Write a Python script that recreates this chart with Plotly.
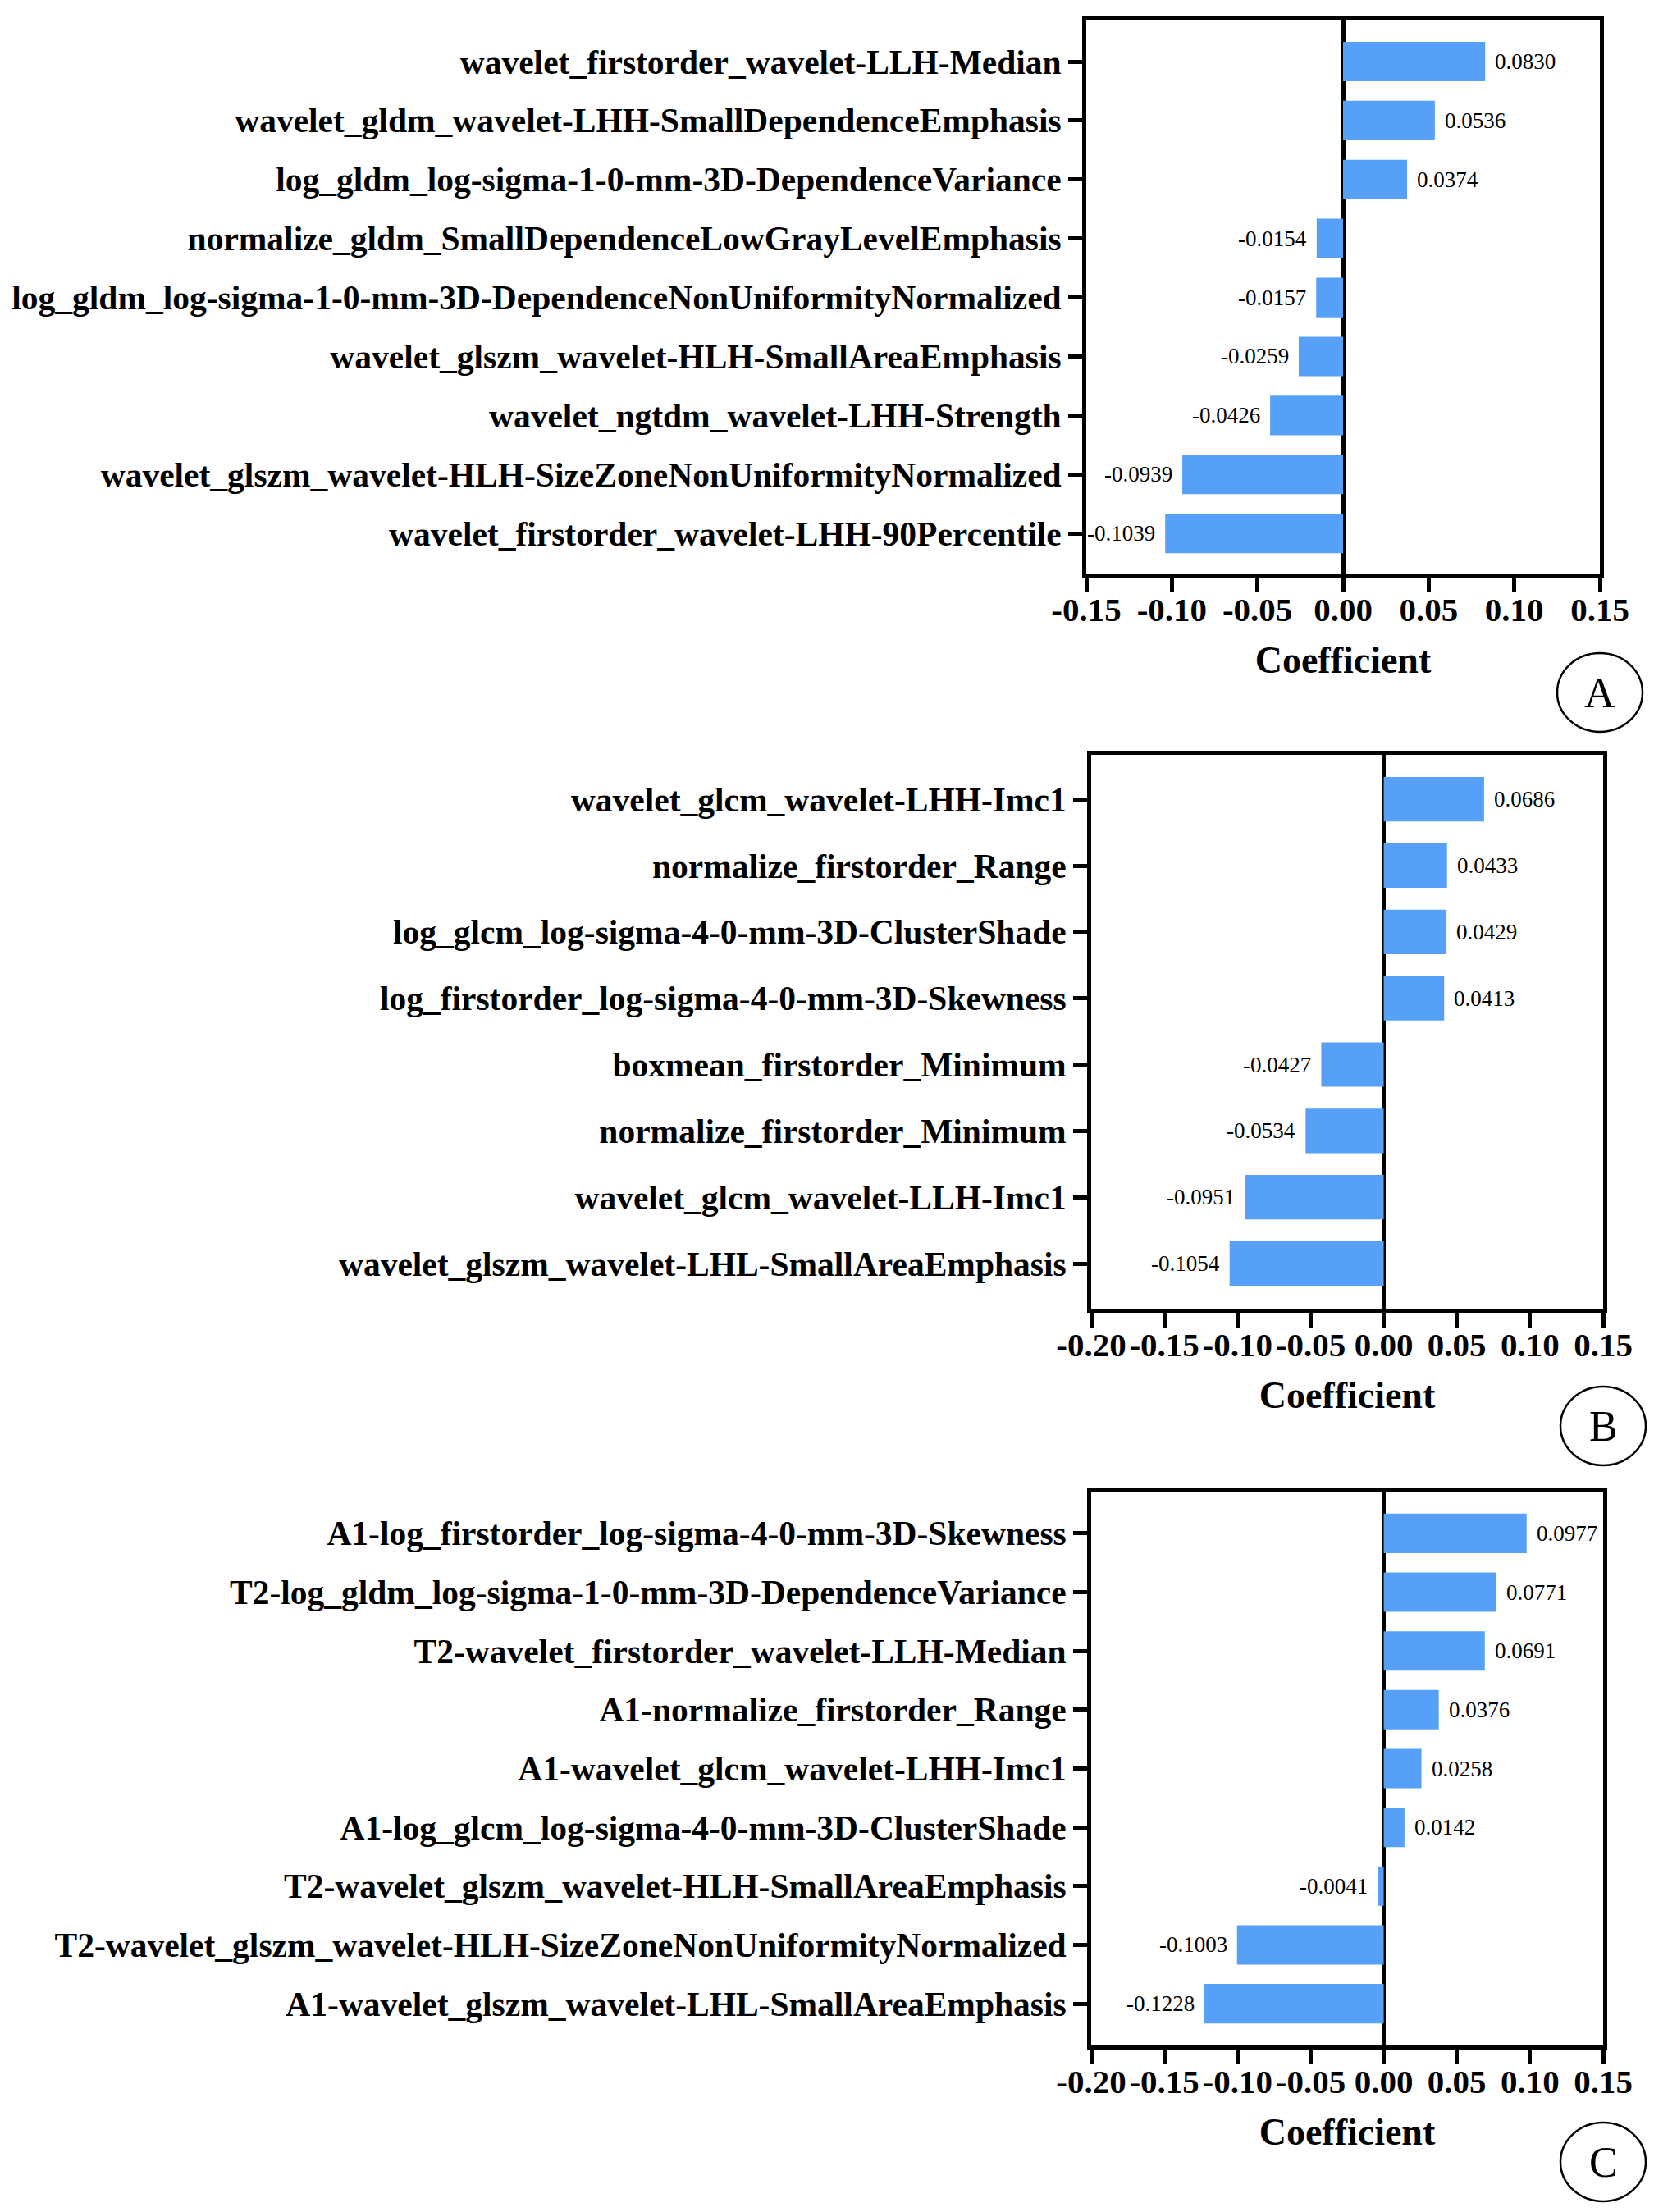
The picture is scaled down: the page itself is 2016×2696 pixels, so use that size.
import plotly.graph_objects as go

# ---------------- data ----------------
a_features = [
    "wavelet_firstorder_wavelet-LLH-Median",
    "wavelet_gldm_wavelet-LHH-SmallDependenceEmphasis",
    "log_gldm_log-sigma-1-0-mm-3D-DependenceVariance",
    "normalize_gldm_SmallDependenceLowGrayLevelEmphasis",
    "log_gldm_log-sigma-1-0-mm-3D-DependenceNonUniformityNormalized",
    "wavelet_glszm_wavelet-HLH-SmallAreaEmphasis",
    "wavelet_ngtdm_wavelet-LHH-Strength",
    "wavelet_glszm_wavelet-HLH-SizeZoneNonUniformityNormalized",
    "wavelet_firstorder_wavelet-LHH-90Percentile",
]
a_coefs = [0.0830, 0.0536, 0.0374, -0.0154, -0.0157, -0.0259, -0.0426, -0.0939, -0.1039]

b_features = [
    "wavelet_glcm_wavelet-LHH-Imc1",
    "normalize_firstorder_Range",
    "log_glcm_log-sigma-4-0-mm-3D-ClusterShade",
    "log_firstorder_log-sigma-4-0-mm-3D-Skewness",
    "boxmean_firstorder_Minimum",
    "normalize_firstorder_Minimum",
    "wavelet_glcm_wavelet-LLH-Imc1",
    "wavelet_glszm_wavelet-LHL-SmallAreaEmphasis",
]
b_coefs = [0.0686, 0.0433, 0.0429, 0.0413, -0.0427, -0.0534, -0.0951, -0.1054]

c_features = [
    "A1-log_firstorder_log-sigma-4-0-mm-3D-Skewness",
    "T2-log_gldm_log-sigma-1-0-mm-3D-DependenceVariance",
    "T2-wavelet_firstorder_wavelet-LLH-Median",
    "A1-normalize_firstorder_Range",
    "A1-wavelet_glcm_wavelet-LHH-Imc1",
    "A1-log_glcm_log-sigma-4-0-mm-3D-ClusterShade",
    "T2-wavelet_glszm_wavelet-HLH-SmallAreaEmphasis",
    "T2-wavelet_glszm_wavelet-HLH-SizeZoneNonUniformityNormalized",
    "A1-wavelet_glszm_wavelet-LHL-SmallAreaEmphasis",
]
c_coefs = [0.0977, 0.0771, 0.0691, 0.0376, 0.0258, 0.0142, -0.0041, -0.1003, -0.1228]

a_ticks = [-0.15, -0.10, -0.05, 0.00, 0.05, 0.10, 0.15]
b_ticks = [-0.20, -0.15, -0.10, -0.05, 0.00, 0.05, 0.10, 0.15]
c_ticks = [-0.20, -0.15, -0.10, -0.05, 0.00, 0.05, 0.10, 0.15]
a_ticklabels = ["-0.15", "-0.10", "-0.05", "0.00", "0.05", "0.10", "0.15"]
b_ticklabels = ["-0.20", "-0.15", "-0.10", "-0.05", "0.00", "0.05", "0.10", "0.15"]
c_ticklabels = ["-0.20", "-0.15", "-0.10", "-0.05", "0.00", "0.05", "0.10", "0.15"]

panel_letters = ["A", "B", "C"]
x_title = "Coefficient"

# ---------------- styling / layout ----------------
W, H = 2016, 2696
BAR_COLOR = "#56A0F8"
FONT = "Liberation Serif, Times New Roman, serif"

# pixel boxes of each panel (left, right, top, bottom)
boxes = [
    (1316, 1942, 16, 691),
    (1322, 1946, 912, 1587),
    (1322, 1946, 1810, 2485),
]
# category padding (top, bottom) in category units
pads = [(0.71, 0.68), (0.67, 0.68), (0.71, 0.71)]
circles = [(1942, 836), (1946, 1730), (1946, 2627)]

panels = [
    (a_features, a_coefs, a_ticks, a_ticklabels),
    (b_features, b_coefs, b_ticks, b_ticklabels),
    (c_features, c_coefs, c_ticks, c_ticklabels),
]

fig = go.Figure()
annotations = []
shapes = []

for i, (feats, coefs, tv, tt) in enumerate(panels):
    sfx = "" if i == 0 else str(i + 1)
    xa, ya = "x" + sfx, "y" + sfx
    fig.add_trace(go.Bar(
        x=coefs, y=feats, orientation="h",
        marker=dict(color=BAR_COLOR, line=dict(width=0)),
        width=0.67, xaxis=xa, yaxis=ya, showlegend=False,
        hoverinfo="x+y",
    ))
    l, r, t, b = boxes[i]
    n = len(feats)
    ptop, pbot = pads[i]
    common_line = dict(showline=True, linecolor="black", linewidth=5, mirror=True,
                       ticks="outside", tickcolor="black", tickwidth=5,
                       showgrid=False, layer="above traces")
    fig.update_layout(**{
        "xaxis" + sfx: dict(
            domain=[l / W, r / W], anchor=ya, range=[tv[0], tv[-1]],
            tickmode="array", tickvals=tv, ticktext=tt, tickangle=0, ticklen=18,
            ticklabelstandoff=-14,
            zeroline=True, zerolinecolor="black", zerolinewidth=5,
            tickfont=dict(family=FONT, size=41, color="black", weight="bold"),
            title=dict(text=x_title, standoff=24,
                       font=dict(family=FONT, size=46, color="black", weight="bold")),
            automargin=False,
            **common_line,
        ),
        "yaxis" + sfx: dict(
            domain=[1 - b / H, 1 - t / H], anchor=xa, type="category",
            range=[n - 1 + pbot, -ptop], ticklen=17,
            tickfont=dict(family=FONT, size=41.5, color="black", weight="bold"),
            automargin=False, zeroline=False,
            **common_line,
        ),
    })
    for f, v in zip(feats, coefs):
        annotations.append(dict(
            x=v, y=f, xref=xa, yref=ya, text=f"{v:.4f}", showarrow=False,
            xanchor="left" if v >= 0 else "right", xshift=10 if v >= 0 else -10,
            font=dict(family=FONT, size=27, color="black"),
        ))
    cx, cy = circles[i]
    rx, ry = 52, 48
    shapes.append(dict(type="circle", xref="paper", yref="paper",
                       x0=(cx - rx) / W, x1=(cx + rx) / W,
                       y0=1 - (cy + ry) / H, y1=1 - (cy - ry) / H,
                       line=dict(color="black", width=2.5)))
    annotations.append(dict(x=cx / W, y=1 - cy / H, xref="paper", yref="paper",
                            text=panel_letters[i], showarrow=False,
                            xanchor="center", yanchor="middle",
                            font=dict(family=FONT, size=52, color="black")))

fig.update_layout(
    width=W, height=H, autosize=False,
    margin=dict(l=0, r=0, t=0, b=0),
    paper_bgcolor="white", plot_bgcolor="white",
    annotations=annotations, shapes=shapes,
    bargap=0.33,
)

fig.write_html("out.html")
